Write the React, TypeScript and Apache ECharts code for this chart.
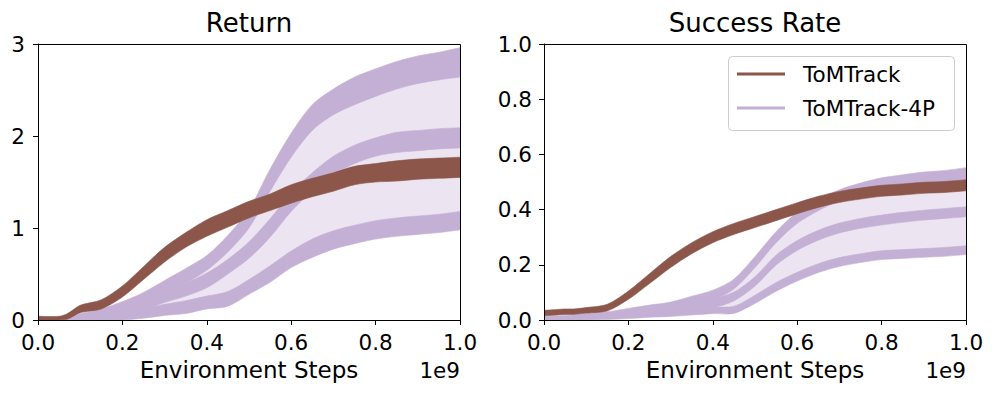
import React, { useEffect, useRef } from 'react';
import * as echarts from 'echarts';

// x positions (in units of 1e9 environment steps)
const steps = [0, 0.05, 0.07, 0.1, 0.15, 0.2, 0.25, 0.3, 0.35, 0.4, 0.45, 0.5, 0.55, 0.6, 0.65, 0.7, 0.75, 0.8, 0.85, 0.9, 0.95, 1.0];

// ---- Return panel ----
const retTomMean = [0.02, 0.02, 0.04, 0.12, 0.17, 0.31, 0.51, 0.71, 0.87, 1.0, 1.1, 1.2, 1.28, 1.37, 1.44, 1.5, 1.57, 1.6, 1.62, 1.64, 1.65, 1.66];
const retTomSpread = [0.02, 0.02, 0.03, 0.04, 0.05, 0.06, 0.07, 0.08, 0.08, 0.09, 0.09, 0.09, 0.09, 0.1, 0.1, 0.1, 0.1, 0.1, 0.11, 0.11, 0.11, 0.11];
const ret4pHighMean = [0, 0.01, 0.02, 0.04, 0.08, 0.15, 0.24, 0.36, 0.48, 0.62, 0.83, 1.1, 1.52, 1.9, 2.2, 2.37, 2.49, 2.58, 2.66, 2.72, 2.76, 2.8];
const ret4pHighSpread = [0.01, 0.02, 0.02, 0.03, 0.04, 0.05, 0.06, 0.07, 0.08, 0.08, 0.09, 0.1, 0.12, 0.13, 0.14, 0.14, 0.15, 0.15, 0.15, 0.15, 0.15, 0.16];
const ret4pMidMean = [0, 0.01, 0.01, 0.02, 0.05, 0.1, 0.16, 0.25, 0.33, 0.43, 0.58, 0.76, 1.0, 1.28, 1.5, 1.68, 1.8, 1.88, 1.93, 1.95, 1.97, 1.98];
const ret4pMidSpread = [0.01, 0.01, 0.02, 0.02, 0.03, 0.04, 0.05, 0.06, 0.07, 0.08, 0.08, 0.09, 0.1, 0.1, 0.1, 0.1, 0.1, 0.1, 0.11, 0.11, 0.11, 0.11];
const ret4pLowMean = [0, 0, 0, 0.01, 0.02, 0.04, 0.07, 0.11, 0.14, 0.19, 0.23, 0.36, 0.5, 0.66, 0.78, 0.87, 0.93, 0.98, 1.01, 1.03, 1.05, 1.08];
const ret4pLowSpread = [0.01, 0.01, 0.01, 0.02, 0.03, 0.04, 0.05, 0.06, 0.07, 0.07, 0.08, 0.08, 0.09, 0.09, 0.1, 0.1, 0.1, 0.1, 0.1, 0.1, 0.1, 0.1];

// ---- Success Rate panel ----
const sucTomMean = [0.025, 0.03, 0.03, 0.035, 0.045, 0.09, 0.15, 0.21, 0.26, 0.3, 0.33, 0.355, 0.38, 0.405, 0.428, 0.446, 0.458, 0.468, 0.473, 0.479, 0.482, 0.488];
const sucTomSpread = [0.01, 0.01, 0.01, 0.01, 0.012, 0.015, 0.018, 0.02, 0.02, 0.02, 0.02, 0.02, 0.02, 0.02, 0.02, 0.02, 0.02, 0.02, 0.02, 0.02, 0.02, 0.02];
const suc4pHighMean = [0.005, 0.008, 0.01, 0.015, 0.02, 0.03, 0.04, 0.05, 0.07, 0.09, 0.13, 0.21, 0.3, 0.37, 0.416, 0.452, 0.476, 0.495, 0.506, 0.516, 0.52, 0.53];
const suc4pHighSpread = [0.008, 0.008, 0.008, 0.01, 0.01, 0.012, 0.014, 0.015, 0.016, 0.018, 0.018, 0.02, 0.02, 0.02, 0.02, 0.02, 0.02, 0.02, 0.02, 0.02, 0.022, 0.022];
const suc4pMidMean = [0.005, 0.007, 0.008, 0.01, 0.015, 0.02, 0.025, 0.03, 0.045, 0.06, 0.085, 0.14, 0.217, 0.27, 0.307, 0.333, 0.35, 0.362, 0.372, 0.38, 0.386, 0.392];
const suc4pMidSpread = [0.006, 0.006, 0.006, 0.008, 0.008, 0.01, 0.012, 0.014, 0.015, 0.016, 0.016, 0.017, 0.018, 0.018, 0.018, 0.018, 0.018, 0.018, 0.018, 0.018, 0.018, 0.018];
const suc4pLowMean = [0.003, 0.005, 0.005, 0.007, 0.01, 0.015, 0.02, 0.025, 0.03, 0.035, 0.037, 0.075, 0.12, 0.157, 0.188, 0.21, 0.224, 0.235, 0.239, 0.243, 0.247, 0.253];
const suc4pLowSpread = [0.005, 0.005, 0.005, 0.006, 0.008, 0.01, 0.01, 0.012, 0.012, 0.012, 0.013, 0.015, 0.016, 0.016, 0.016, 0.016, 0.016, 0.016, 0.016, 0.016, 0.016, 0.016];

const panelTitles = ['Return', 'Success Rate'];
const xAxisName = 'Environment Steps';
const xAxisOffsetText = '1e9';
const legendNames = ['ToMTrack', 'ToMTrack-4P'];

const FONT = 'DejaVu Sans';
const BROWN = '#8c564b';
const PURPLE = '#c5b0d5';
const PURPLE_FILL = '#ece5f1';

function polygonSeries(name: string, idx: number, lo: number[], hi: number[], color: string) {
  return {
    type: 'custom',
    name,
    coordinateSystem: 'cartesian2d',
    xAxisIndex: idx,
    yAxisIndex: idx,
    silent: true,
    clip: true,
    itemStyle: { color },
    data: steps.map((x, i) => [x, lo[i], hi[i]]),
    encode: { x: 0, y: [1, 2] },
    renderItem: (params: any, api: any) => {
      if (params.dataIndex !== 0) return null;
      const n = steps.length;
      const pts: number[][] = [];
      // repeated corner points keep the band ends square while the edges are smoothed
      pts.push(api.coord([steps[0], hi[0]]));
      for (let i = 0; i < n; i++) pts.push(api.coord([steps[i], hi[i]]));
      pts.push(api.coord([steps[n - 1], hi[n - 1]]));
      pts.push(api.coord([steps[n - 1], lo[n - 1]]));
      for (let i = n - 1; i >= 0; i--) pts.push(api.coord([steps[i], lo[i]]));
      pts.push(api.coord([steps[0], lo[0]]));
      return {
        type: 'polygon',
        shape: { points: pts, smooth: 0.3 },
        style: { fill: color, stroke: color, lineWidth: 0.6 },
      };
    },
  };
}

function bandSeries(name: string, idx: number, mean: number[], spread: number[], color: string) {
  const lo = mean.map((m, i) => Math.max(0, m - spread[i]));
  const hi = mean.map((m, i) => m + spread[i]);
  return polygonSeries(name, idx, lo, hi, color);
}

function panelSeries(
  idx: number,
  tomMean: number[], tomSpread: number[],
  hiMean: number[], hiSpread: number[],
  midMean: number[], midSpread: number[],
  lowMean: number[], lowSpread: number[],
) {
  return [
    polygonSeries('ToMTrack-4P range', idx, lowMean, hiMean, PURPLE_FILL),
    bandSeries('ToMTrack-4P', idx, lowMean, lowSpread, PURPLE),
    bandSeries('ToMTrack-4P', idx, midMean, midSpread, PURPLE),
    bandSeries('ToMTrack-4P', idx, hiMean, hiSpread, PURPLE),
    bandSeries('ToMTrack', idx, tomMean, tomSpread, BROWN),
  ];
}

const GRIDS = [
  { left: 38, top: 44, width: 422, height: 276 },
  { left: 544, top: 44, width: 422, height: 276 },
];

function xAxisCfg(idx: number) {
  return {
    gridIndex: idx,
    type: 'value',
    min: 0,
    max: 1,
    interval: 0.2,
    axisLine: { show: true, onZero: false, lineStyle: { color: '#000', width: 1 } },
    axisTick: { show: true, length: 5, lineStyle: { color: '#000', width: 1 } },
    axisLabel: {
      color: '#000', fontSize: 21.5, fontFamily: FONT, margin: 11,
      formatter: (v: number) => v.toFixed(1),
    },
    splitLine: { show: false },
  };
}

export default function App() {
  const ref = useRef<HTMLDivElement>(null);
  useEffect(() => {
    if (!ref.current) return;
    const chart = echarts.init(ref.current, null, { renderer: 'svg' });
    const graphics: any[] = [];
    GRIDS.forEach((g, i) => {
      graphics.push({
        type: 'rect', z: 100, silent: true,
        shape: { x: g.left + 0.5, y: g.top + 0.5, width: g.width, height: g.height },
        style: { fill: 'none', stroke: '#000', lineWidth: 1 },
      });
      graphics.push({
        type: 'text', z: 100, x: g.left + g.width / 2, y: 23,
        style: { text: panelTitles[i], fontSize: 26, fontFamily: FONT, fill: '#000', textAlign: 'center', textVerticalAlign: 'middle' },
      });
      graphics.push({
        type: 'text', z: 100, x: g.left + g.width / 2, y: 370,
        style: { text: xAxisName, fontSize: 23, fontFamily: FONT, fill: '#000', textAlign: 'center', textVerticalAlign: 'middle' },
      });
      graphics.push({
        type: 'text', z: 100, x: g.left + g.width, y: 370,
        style: { text: xAxisOffsetText, fontSize: 21.5, fontFamily: FONT, fill: '#000', textAlign: 'right', textVerticalAlign: 'middle' },
      });
    });
    // legend (right panel)
    graphics.push({
      type: 'rect', z: 110, silent: true,
      shape: { x: 728.5, y: 56.5, width: 226, height: 74, r: 4 },
      style: { fill: 'rgba(255,255,255,0.8)', stroke: '#cccccc', lineWidth: 1 },
    });
    [BROWN, PURPLE].forEach((c, i) => {
      const y = 74 + i * 34;
      graphics.push({
        type: 'line', z: 111, silent: true,
        shape: { x1: 737, y1: y, x2: 785, y2: y },
        style: { stroke: c, lineWidth: 3 },
      });
      graphics.push({
        type: 'text', z: 111, x: 803, y,
        style: { text: legendNames[i], fontSize: 21.5, fontFamily: FONT, fill: '#000', textAlign: 'left', textVerticalAlign: 'middle' },
      });
    });

    chart.setOption({
      animation: false,
      backgroundColor: '#ffffff',
      grid: GRIDS.map((g) => ({ ...g, containLabel: false })),
      xAxis: [xAxisCfg(0), xAxisCfg(1)],
      yAxis: [
        {
          gridIndex: 0, type: 'value', min: 0, max: 3, interval: 1,
          axisLine: { show: true, onZero: false, lineStyle: { color: '#000', width: 1 } },
          axisTick: { show: true, length: 5, lineStyle: { color: '#000', width: 1 } },
          axisLabel: { color: '#000', fontSize: 21.5, fontFamily: FONT, margin: 13 },
          splitLine: { show: false },
        },
        {
          gridIndex: 1, type: 'value', min: 0, max: 1, interval: 0.2,
          axisLine: { show: true, onZero: false, lineStyle: { color: '#000', width: 1 } },
          axisTick: { show: true, length: 5, lineStyle: { color: '#000', width: 1 } },
          axisLabel: { color: '#000', fontSize: 21.5, fontFamily: FONT, margin: 12, formatter: (v: number) => v.toFixed(1) },
          splitLine: { show: false },
        },
      ],
      series: [
        ...panelSeries(0, retTomMean, retTomSpread, ret4pHighMean, ret4pHighSpread, ret4pMidMean, ret4pMidSpread, ret4pLowMean, ret4pLowSpread),
        ...panelSeries(1, sucTomMean, sucTomSpread, suc4pHighMean, suc4pHighSpread, suc4pMidMean, suc4pMidSpread, suc4pLowMean, suc4pLowSpread),
      ],
      graphic: graphics,
    });
    return () => chart.dispose();
  }, []);
  return (
    <div
      ref={ref}
      style={{ position: 'fixed', left: 0, top: 0, width: 997, height: 396, background: '#fff' }}
    />
  );
}
